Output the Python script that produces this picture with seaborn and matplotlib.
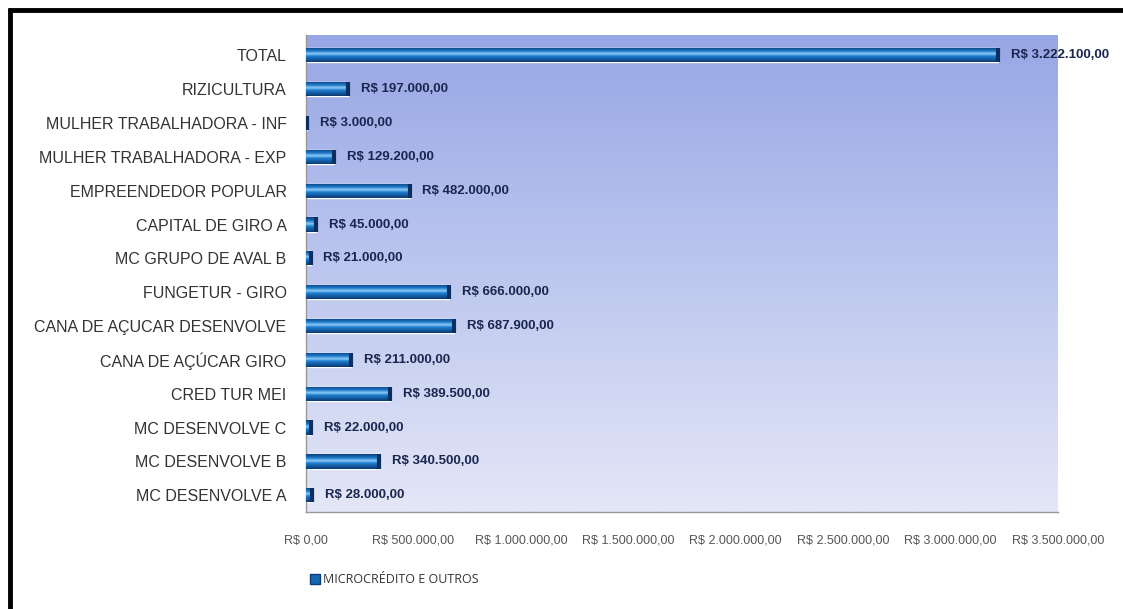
import numpy as np
import pandas as pd
import matplotlib.pyplot as plt
import seaborn as sns
from matplotlib.colors import LinearSegmentedColormap
from matplotlib.lines import Line2D
from matplotlib.patches import Patch

categories = ['TOTAL', 'RIZICULTURA', 'MULHER TRABALHADORA - INF', 'MULHER TRABALHADORA - EXP',
              'EMPREENDEDOR POPULAR', 'CAPITAL DE GIRO A', 'MC GRUPO DE AVAL B', 'FUNGETUR - GIRO',
              'CANA DE AÇUCAR DESENVOLVE', 'CANA DE AÇÚCAR GIRO', 'CRED TUR MEI',
              'MC DESENVOLVE C', 'MC DESENVOLVE B', 'MC DESENVOLVE A']
values = [3222100, 197000, 3000, 129200, 482000, 45000, 21000, 666000,
          687900, 211000, 389500, 22000, 340500, 28000]
series_name = 'MICROCRÉDITO E OUTROS'
xticks = [0, 500000, 1000000, 1500000, 2000000, 2500000, 3000000, 3500000]


def brl(v):
    s = f"{v:,.2f}"
    s = s.replace(',', 'X').replace('.', ',').replace('X', '.')
    return 'R$ ' + s


df = pd.DataFrame({'cat': categories, 'val': values})

sns.set_theme(style='white')
plt.rcParams['font.family'] = ['Liberation Sans', 'DejaVu Sans']

fig = plt.figure(figsize=(11.23, 6.09), dpi=100)
ax = fig.add_axes([0.2725, 0.159, 0.6695, 0.7835])

# vertical gradient background of plot area
bg = LinearSegmentedColormap.from_list('bg', [(0, '#e4e7f7'), (0.55, '#b9c4ee'), (1, '#97a6e5')])
grad = np.linspace(0, 1, 256).reshape(-1, 1)
ax.imshow(grad, cmap=bg, extent=[0, 1, 0, 1], transform=ax.transAxes,
          aspect='auto', origin='lower', zorder=0)

sns.barplot(data=df, y='cat', x='val', orient='h', color='#1669b0', width=0.42,
            saturation=1, ax=ax, zorder=2)

# cylinder shading on bars
bar_cmap = LinearSegmentedColormap.from_list(
    'bar', [(0, '#0d3f7c'), (0.25, '#1b78c8'), (0.45, '#8fcaf5'), (0.6, '#1e80d2'), (1, '#0b3a72')])
shade = np.linspace(0, 1, 50).reshape(-1, 1)
for p in ax.patches:
    x0, y0 = p.get_x(), p.get_y()
    w, h = p.get_width(), p.get_height()
    im = ax.imshow(shade, cmap=bar_cmap, extent=[x0, x0 + w, y0 + h, y0],
                   aspect='auto', zorder=3)
    im.set_clip_path(p)
    ax.plot([x0 + w, x0 + w], [y0, y0 + h], color='#0a2f60', lw=3, zorder=4,
            solid_capstyle='butt')

for i, v in enumerate(values):
    ax.text(v + 60000, i, brl(v), va='center', ha='left', fontsize=9.5,
            fontweight='bold', color='#1b2650', zorder=5)

ax.set_xlim(0, 3500000)
ax.set_ylim(len(categories) - 0.5, -0.6)
ax.set_xticks(xticks)
ax.set_xticklabels([brl(t) for t in xticks], fontsize=9, color='#555555')
ax.tick_params(axis='y', labelsize=11.5, labelcolor='#333333', length=0, pad=14)
ax.tick_params(axis='x', length=0, pad=16)
ax.set_xlabel('')
ax.set_ylabel('')
for s in ['top', 'right']:
    ax.spines[s].set_visible(False)
for s in ['left', 'bottom']:
    ax.spines[s].set_color('#999999')
    ax.spines[s].set_linewidth(1)

fig.legend(handles=[Patch(facecolor='#1669b0', edgecolor='#0b3e7a')], labels=[series_name],
           loc='center', bbox_to_anchor=(0.351, 0.048), frameon=False,
           handlelength=0.8, handleheight=0.8, handletextpad=0.2,
           prop={'family': ['Open Sans', 'DejaVu Sans'], 'size': 9}, labelcolor='#333333')

# black frame on top and left
fig.add_artist(Line2D([0.0075, 1.0], [0.984, 0.984], color='black', lw=3.5,
                      solid_capstyle='butt', transform=fig.transFigure))
fig.add_artist(Line2D([0.0085, 0.0085], [0.0, 0.987], color='black', lw=3.5,
                      solid_capstyle='butt', transform=fig.transFigure))

fig.savefig('out.png', dpi=100)
